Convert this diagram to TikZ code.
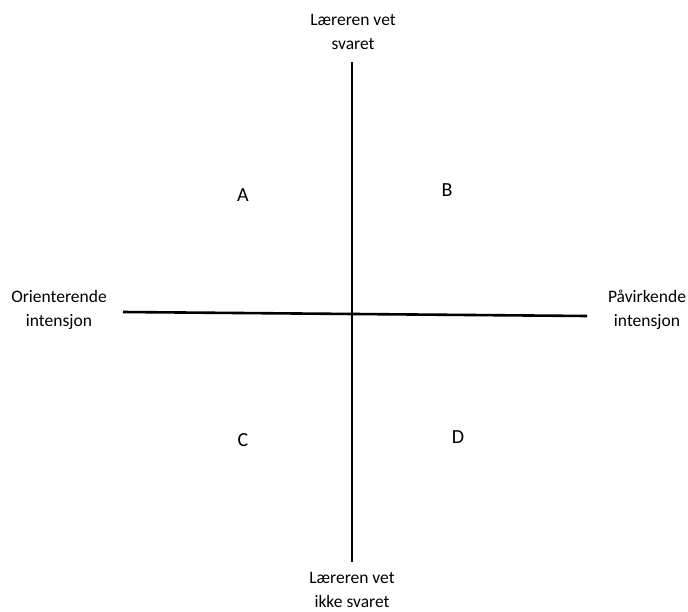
\documentclass[tikz,border=0pt]{standalone}
\usepackage{fontspec}
\setmainfont{Carlito}
\usepackage{tikz}

\begin{document}
\begin{tikzpicture}[x=1pt,y=-1pt,
  axislabel/.style={align=center,inner sep=0pt,font=\fontsize{17.5}{24}\selectfont},
  quadlabel/.style={font=\fontsize{20}{24}\selectfont}]
\useasboundingbox (0,0) rectangle (688,611);
% axes
\coordinate (top) at (352,62);
\coordinate (bottom) at (352,562);
\coordinate (left) at (123,312);
\coordinate (right) at (587,316);
\draw[line width=2.6pt] (top) -- (bottom);
\draw[line width=2.6pt] (left) -- (right);

% axis labels
\node[axislabel] (knows) at (353,32) {Læreren vet\\svaret};
\node[axislabel] (notknows) at (352,590) {Læreren vet\\ikke svaret};
\node[axislabel] (orient) at (59,310) {Orienterende\\intensjon};
\node[axislabel] (influence) at (647,310) {Påvirkende\\intensjon};

% quadrants
\node[quadlabel] (qa) at (243,195) {A};
\node[quadlabel] (qb) at (447,190) {B};
\node[quadlabel] (qc) at (243,440) {C};
\node[quadlabel] (qd) at (458,437) {D};
\end{tikzpicture}
\end{document}
